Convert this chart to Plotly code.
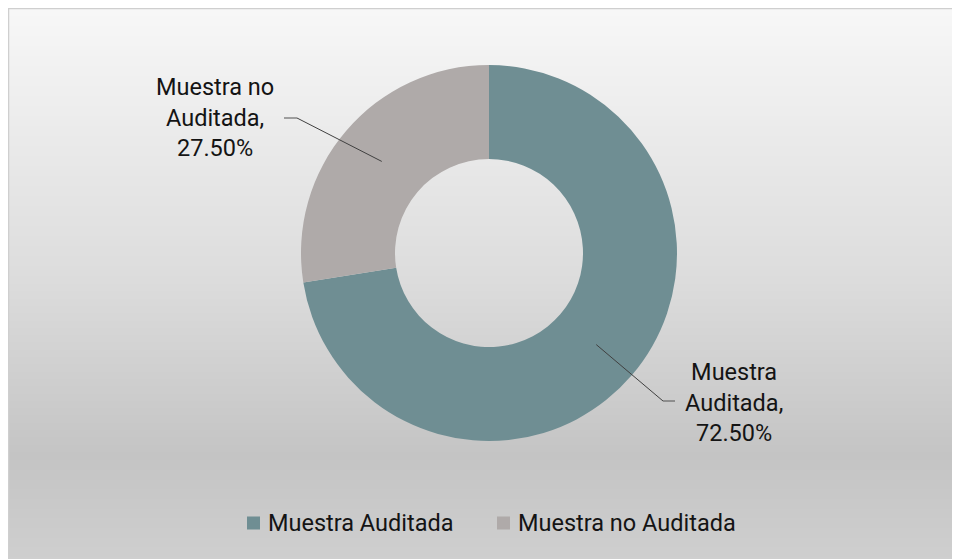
import math
import plotly.graph_objects as go

# ---- data ----
labels = ["Muestra Auditada", "Muestra no Auditada"]
values = [72.5, 27.5]
colors = ["#6F8E93", "#AFAAA9"]
label_text = ["Muestra<br>Auditada,<br>72.50%", "Muestra no<br>Auditada,<br>27.50%"]

# ---- geometry (screen pixels; page body has an 8px margin) ----
OFF = 8
EXTRA = 24                            # figure extends past the window edge
W, H = 960 - OFF + EXTRA, 559 - OFF + EXTRA
X0, X1 = OFF, 960 + EXTRA
Y0, Y1 = OFF, 559 + EXTRA
CX, CY, R = 489, 253, 188
HOLE = 0.5
FONT = "Roboto, Arial, sans-serif"
FS = 23.5
TXT = "#141414"

# background vertical gradient stops (screen y, gray level)
grad_y = [0, 100, 280, 455, 600]
grad_v = [248, 238, 220, 196, 211]

fig = go.Figure()

zs = [[v, v, v] for v in grad_v]
fig.add_trace(go.Heatmap(
    x=[0, 500, 1000], y=grad_y, z=zs, zsmooth="best",
    colorscale=[[0, "rgb(190,190,190)"], [1, "rgb(250,250,250)"]],
    zmin=190, zmax=250, showscale=False, hoverinfo="skip",
    xaxis="x", yaxis="y"))

fig.add_trace(go.Pie(
    labels=labels, values=values, hole=HOLE, sort=False, direction="clockwise",
    rotation=0, marker=dict(colors=colors, line=dict(width=0)),
    textinfo="none", hoverinfo="label+percent", showlegend=False,
    domain=dict(x=[(CX - R - OFF) / W, (CX + R - OFF) / W],
                y=[(Y1 - CY - R) / H, (Y1 - CY + R) / H]),
))

# leader lines + labels, anchored at mid-angle / mid-ring of each slice
elbows = [(663, 401, 675), (297, 118, 284)]  # (elbow x, y, end x)
label_pos = [(734, 402), (215, 117)]
total = sum(values)
cum = 0
shapes = []
annotations = []
rmid = R * (1 + HOLE) / 2
for i, v in enumerate(values):
    mid = (cum + v / 2) / total * 2 * math.pi
    cum += v
    px = CX + rmid * math.sin(mid)
    py = CY - rmid * math.cos(mid)
    ex, ey, tx = elbows[i]
    shapes.append(dict(type="line", xref="x", yref="y", x0=px, y0=py, x1=ex, y1=ey,
                       line=dict(color="#404040", width=1)))
    shapes.append(dict(type="line", xref="x", yref="y", x0=ex, y0=ey, x1=tx, y1=ey,
                       line=dict(color="#505050", width=1)))
    lx, ly = label_pos[i]
    annotations.append(dict(x=lx, y=ly, xref="x", yref="y", text=label_text[i],
                            showarrow=False, align="center",
                            font=dict(family=FONT, size=FS, color=TXT)))

# manual legend (swatch + text)
leg_x = [247, 497]
leg_y = 523
SW = 13
for i, lab in enumerate(labels):
    shapes.append(dict(type="rect", xref="x", yref="y", x0=leg_x[i], x1=leg_x[i] + SW,
                       y0=leg_y - SW / 2, y1=leg_y + SW / 2,
                       fillcolor=colors[i], line=dict(width=0)))
    annotations.append(dict(x=leg_x[i] + SW + 6, y=leg_y, xref="x", yref="y", text=lab,
                            showarrow=False, xanchor="left", yanchor="middle",
                            font=dict(family=FONT, size=FS, color=TXT)))

# chart-area border (top and left visible)
shapes.append(dict(type="line", xref="x", yref="y", x0=X0, x1=X1, y0=X0 + 0.5, y1=X0 + 0.5,
                   line=dict(color="#CFCFCF", width=1.5)))
shapes.append(dict(type="line", xref="x", yref="y", x0=X0 + 0.5, x1=X0 + 0.5, y0=Y0, y1=Y1,
                   line=dict(color="#CFCFCF", width=1.5)))

fig.update_layout(
    width=W, height=H, margin=dict(l=0, r=0, t=0, b=0, pad=0),
    paper_bgcolor="white", plot_bgcolor="rgba(0,0,0,0)",
    xaxis=dict(range=[X0, X1], visible=False, domain=[0, 1], fixedrange=True),
    yaxis=dict(range=[Y1, Y0], visible=False, domain=[0, 1], fixedrange=True),
    shapes=shapes, annotations=annotations,
    showlegend=False,
    font=dict(family=FONT),
)

fig.write_html(
    "out.html",
    post_script=(
        "var s=document.createElement('style');"
        "s.textContent='html,body{overflow:hidden !important;}"
        "::-webkit-scrollbar{display:none;width:0;height:0;}';"
        "document.head.appendChild(s);"
    ),
)
